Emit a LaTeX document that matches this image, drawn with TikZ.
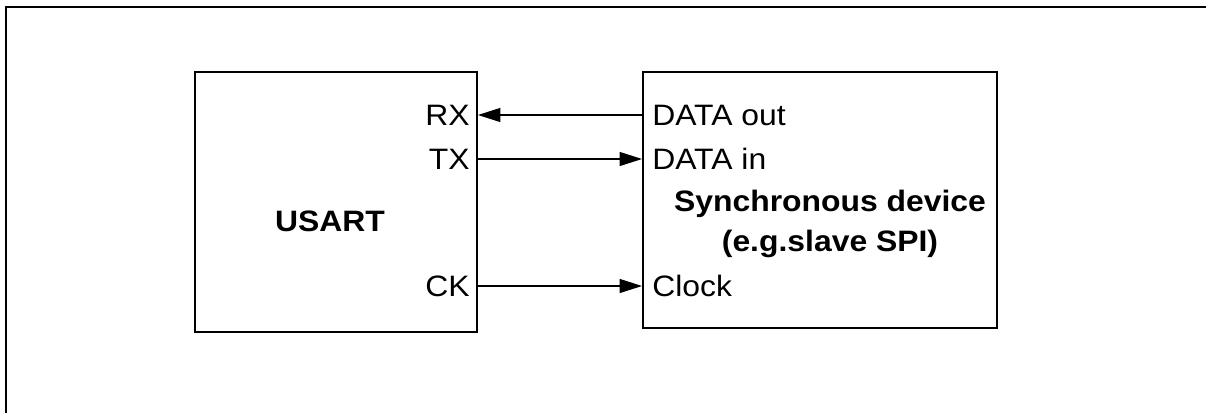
\documentclass[tikz,border=0pt]{standalone}
\usepackage{fontspec}
\setmainfont{Liberation Sans}[FakeStretch=1.08]
\usetikzlibrary{arrows.meta}
\tikzset{
    block/.style={draw, line width=1.4pt, inner sep=0pt},
    port/.style={inner sep=0pt, font=\fontsize{21}{28.5}\selectfont},
    title/.style={inner sep=0pt, align=center, font=\fontsize{21}{28.5}\selectfont\bfseries},
    conn/.style={line width=0.9pt}
}
\begin{document}
\begin{tikzpicture}[scale=1.0, >={Triangle[length=16pt,width=10pt]}]
    \useasboundingbox (0,0) rectangle (30.15,-10.3);
    \draw[line width=1.4pt] (0.15,-10.4) -- (0.15,-0.175) -- (30.3,-0.175);

    \node[block, minimum width=7.05cm, minimum height=6.5cm] (usart) at (8.4,-5.05) {};
    \node[block, minimum width=8.85cm, minimum height=6.4cm] (dev) at (20.5,-5.0) {};

    \node[title] (usartlab) at (8.25,-5.525) {USART};
    \node[title] (devlab) at (20.75,-5.6) {Synchronous device\\(e.g.slave SPI)};

    \foreach \name/\y/\lab in {rx/-2.875/RX, tx/-3.975/TX, ck/-7.15/CK} {
        \node[port, anchor=east] (\name) at (11.75,\y) {\lab};
    }
    \foreach \name/\y/\lab in {dout/-2.875/DATA out, din/-3.975/DATA in, clk/-7.15/Clock} {
        \node[port, anchor=west] (\name) at (16.3,\y) {\lab};
    }

    \draw[<-, conn] (usart.east |- rx.east) -- (dev.west |- dout.west);
    \draw[->, conn] (usart.east |- tx.east) -- (dev.west |- din.west);
    \draw[->, conn] (usart.east |- ck.east) -- (dev.west |- clk.west);
\end{tikzpicture}
\end{document}
